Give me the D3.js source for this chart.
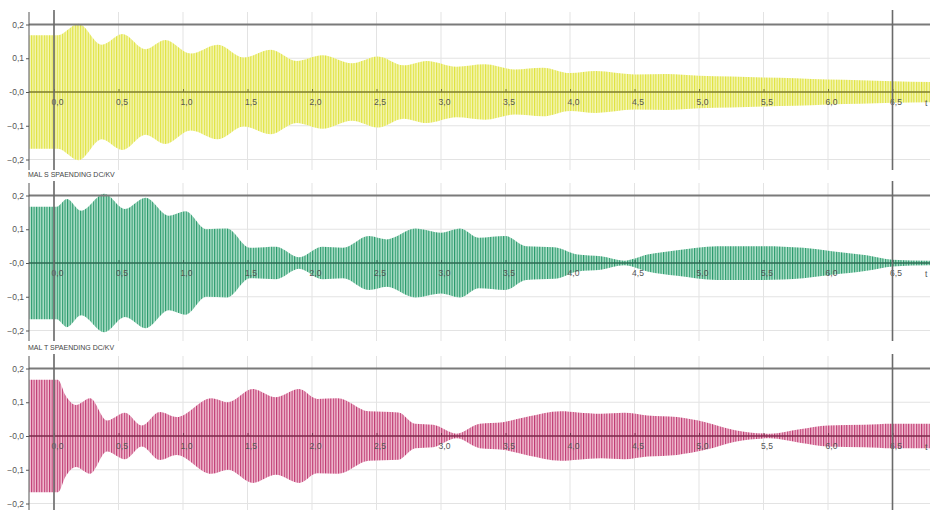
<!DOCTYPE html>
<html>
<head>
<meta charset="utf-8">
<script src="https://cdn.jsdelivr.net/npm/d3@7"></script>
<style>
  html, body { margin: 0; padding: 0; background: #fff; }
  svg { display: block; font-family: "Liberation Sans", Arial, sans-serif; }
</style>
</head>
<body>
<svg id="chart" width="930" height="510"></svg>
<script>
// envelope of each trace, [time s, amplitude kV]
const envR = [
  [-0.19, 0.168], [0.03, 0.168], [0.19, 0.202], [0.37, 0.14], [0.53, 0.172], [0.71, 0.127],
  [0.86, 0.154], [1.06, 0.114], [1.27, 0.14], [1.47, 0.102], [1.68, 0.125], [1.88, 0.092],
  [2.08, 0.109], [2.31, 0.085], [2.51, 0.105], [2.71, 0.079], [2.89, 0.092], [3.12, 0.075],
  [3.34, 0.082], [3.57, 0.067], [3.79, 0.072], [4.0, 0.056], [4.2, 0.062], [4.5, 0.052],
  [4.75, 0.053], [5.0, 0.048], [5.25, 0.046], [5.5, 0.043], [5.75, 0.041], [6.0, 0.037],
  [6.25, 0.035], [6.5, 0.032], [6.79, 0.03]
]
const envS = [
  [-0.19, 0.167], [0.02, 0.167], [0.1, 0.19], [0.21, 0.155], [0.39, 0.205], [0.55, 0.16],
  [0.71, 0.193], [0.89, 0.14], [1.02, 0.153], [1.18, 0.1], [1.34, 0.102], [1.52, 0.045],
  [1.72, 0.048], [1.9, 0.017], [2.08, 0.048], [2.24, 0.045], [2.44, 0.08], [2.58, 0.07],
  [2.8, 0.102], [3.0, 0.09], [3.15, 0.102], [3.29, 0.075], [3.5, 0.08], [3.66, 0.05],
  [3.88, 0.047], [4.06, 0.025], [4.24, 0.02], [4.42, 0.007], [4.6, 0.025], [4.83, 0.038],
  [5.14, 0.05], [5.5, 0.05], [5.81, 0.045], [6.03, 0.035], [6.3, 0.023], [6.5, 0.01], [6.79, 0.007]
]
const envT = [
  [-0.19, 0.167], [0.03, 0.167], [0.09, 0.12], [0.17, 0.092], [0.28, 0.112], [0.41, 0.046],
  [0.55, 0.069], [0.68, 0.031], [0.82, 0.071], [0.95, 0.056], [1.22, 0.112], [1.35, 0.1],
  [1.54, 0.139], [1.72, 0.115], [1.9, 0.139], [2.04, 0.11], [2.2, 0.112], [2.44, 0.073],
  [2.67, 0.07], [2.8, 0.036], [2.94, 0.033], [3.12, 0.007], [3.3, 0.036], [3.48, 0.041],
  [3.66, 0.056], [3.93, 0.073], [4.06, 0.07], [4.24, 0.066], [4.42, 0.069], [4.6, 0.061],
  [4.83, 0.056], [5.05, 0.041], [5.28, 0.017], [5.55, 0.007], [5.78, 0.02], [6.0, 0.031],
  [6.28, 0.033], [6.5, 0.036], [6.79, 0.036]
]
const timeTicks = [0, 0.5, 1, 1.5, 2, 2.5, 3, 3.5, 4, 4.5, 5, 5.5, 6, 6.5]
const voltTicks = [-0.2, -0.1, 0, 0.1, 0.2]
const cursorTimes = [0, 6.5]
const panelTitles = ['', 'MAL S SPAENDING DC/KV', 'MAL T SPAENDING DC/KV']

const panels = [
  { data: envR, zero: 92, stripe: '#e0e340', gap: '#f5f6b8', axis: '#7c7c2e' },
  { data: envS, zero: 263, stripe: '#2a9a6c', gap: '#b4e2cd', axis: '#2d6a52' },
  { data: envT, zero: 436, stripe: '#bf3a72', gap: '#f3c3d5', axis: '#7a2a4a' }
]

const svg = d3.select('#chart')
const defs = svg.append('defs')
const W = 930
const axisX = 29

let x = d3.scaleLinear().domain([0, 6.5]).range([54, 892.5])
let carrier = x(0.02) - x(0)   // 50 Hz lines
let fmt = v => d3.format('.1f')(v).replace('.', ',')

panels.forEach((p, i) => {
  let y = d3.scaleLinear().domain([-0.2, 0.2]).range([p.zero + 67.5, p.zero - 67.5])
  let top = p.zero - 80, bottom = i === 2 ? 510 : p.zero + 78
  let g = svg.append('g')

  // stripe pattern for the dense oscillation
  let pat = defs.append('pattern')
    .attr('id', 'osc' + i)
    .attr('patternUnits', 'userSpaceOnUse')
    .attr('width', carrier).attr('height', 10)
  pat.append('rect').attr('width', carrier).attr('height', 10).attr('fill', p.gap)
  pat.append('rect').attr('width', carrier * 0.45).attr('height', 10).attr('fill', p.stripe)

  // grid
  g.selectAll('line.vgrid').data(timeTicks)
    .join('line').attr('class', 'vgrid')
    .attr('x1', d => x(d)).attr('x2', d => x(d))
    .attr('y1', top).attr('y2', bottom)
    .attr('stroke', '#e3e3e3').attr('stroke-width', 1)
  g.selectAll('line.hgrid').data(voltTicks.filter(v => v !== 0 && v !== 0.2))
    .join('line').attr('class', 'hgrid')
    .attr('x1', axisX).attr('x2', W)
    .attr('y1', d => y(d)).attr('y2', d => y(d))
    .attr('stroke', '#e3e3e3').attr('stroke-width', 1)

  // signal
  let area = d3.area()
    .x(d => x(d[0]))
    .y0(d => y(-d[1]))
    .y1(d => y(d[1]))
    .curve(d3.curveMonotoneX)
  g.append('path')
    .attr('d', area(p.data))
    .attr('fill', `url(#osc${i})`)

  // upper reference line at 0.2
  g.append('line')
    .attr('x1', axisX).attr('x2', W)
    .attr('y1', y(0.2)).attr('y2', y(0.2))
    .attr('stroke', '#7a7a7a').attr('stroke-width', 2)

  // zero line with time axis
  let xa = g.append('g')
    .attr('transform', `translate(0,${y(0)})`)
    .call(d3.axisBottom(x).tickValues(timeTicks).tickSize(-3).tickPadding(7).tickFormat(fmt))
  xa.select('.domain').remove()
  xa.selectAll('.tick line').attr('stroke', p.axis)
  xa.selectAll('.tick text')
    .attr('dx', 3)
    .attr('fill', '#555').attr('font-size', 8.5)
  g.append('line')
    .attr('x1', axisX).attr('x2', W)
    .attr('y1', y(0)).attr('y2', y(0))
    .attr('stroke', p.axis).attr('stroke-width', 1.3)
  g.append('text')
    .attr('x', 925).attr('y', y(0) + 14)
    .attr('fill', '#555').attr('font-size', 8.5)
    .text('t')

  // volt axis
  let ya = g.append('g')
    .attr('transform', `translate(${axisX},0)`)
    .call(d3.axisLeft(y).tickValues(voltTicks).tickSize(3).tickPadding(2)
      .tickFormat(v => v === 0 ? '-0,0' : fmt(v)))
  ya.select('.domain').remove()
  ya.selectAll('.tick line').attr('stroke', '#555')
  ya.selectAll('.tick text').attr('fill', '#555').attr('font-size', 8.5)
  g.append('line')
    .attr('x1', axisX).attr('x2', axisX)
    .attr('y1', top).attr('y2', bottom)
    .attr('stroke', '#555').attr('stroke-width', 1)

  // cursors
  g.selectAll('line.cursor').data(cursorTimes)
    .join('line').attr('class', 'cursor')
    .attr('x1', d => x(d)).attr('x2', d => x(d))
    .attr('y1', top - 2).attr('y2', bottom)
    .attr('stroke', '#6a6a6a').attr('stroke-width', 1.6)

  if (panelTitles[i]) {
    g.append('text')
      .attr('x', 28).attr('y', top - 6)
      .attr('fill', '#444').attr('font-size', 7)
      .attr('font-family', '"Liberation Sans Narrow", "Liberation Sans", sans-serif')
      .text(panelTitles[i])
  }
})
</script>
</body>
</html>
